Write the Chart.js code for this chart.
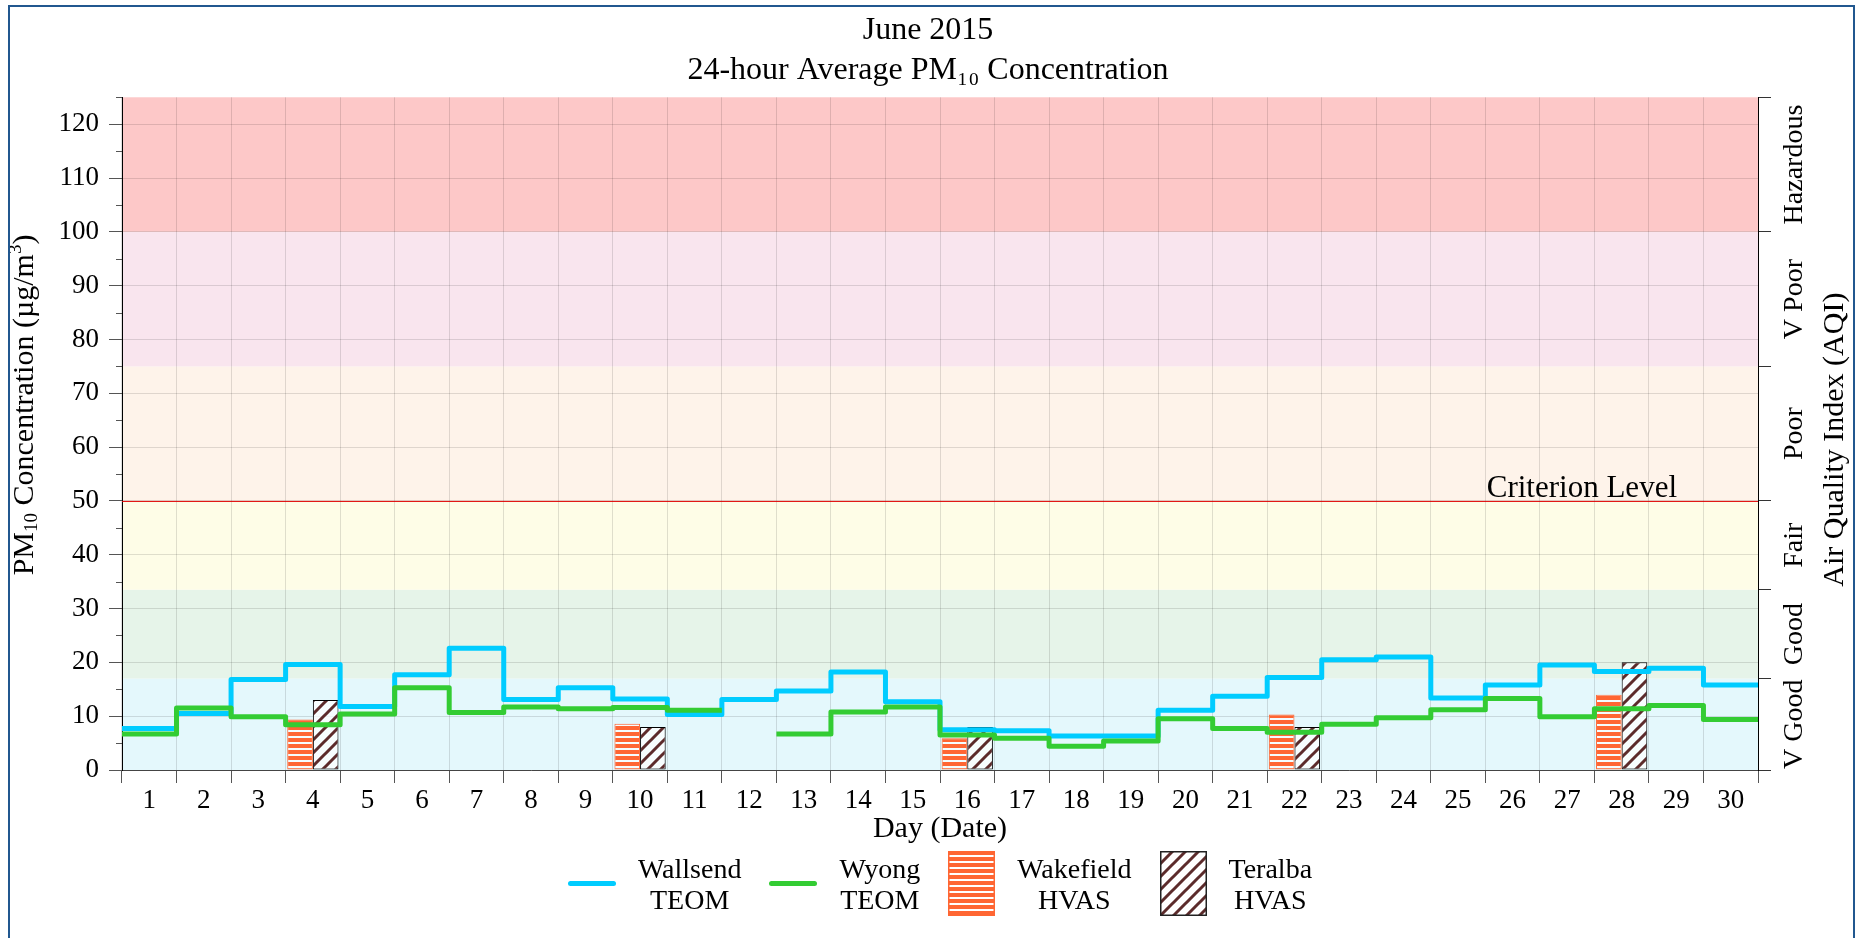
<!DOCTYPE html>
<html>
<head>
<meta charset="utf-8">
<script src="https://cdn.jsdelivr.net/npm/chart.js@4.4.1/dist/chart.umd.min.js"></script>
<style>
    html, body { margin: 0; padding: 0; background: #fff; overflow: hidden; }
    #wrap { position: relative; width: 1856px; height: 938px; }
    #frame { position: absolute; left: 8px; top: 5px; width: 1847px; height: 1000px; border: 2px solid #21578f; border-bottom: none; box-sizing: border-box; pointer-events: none; }
    #legend { position: absolute; left: 122px; width: 1636px; top: 851px; height: 65px; display: flex; justify-content: center; align-items: center; gap: 28px;
              font-family: 'Liberation Serif', 'Times New Roman', serif; font-size: 28px; line-height: 31px; color: #000; }
    .item { display: flex; align-items: center; }
    .swatch-line { width: 48px; height: 5px; border-radius: 3px; }
    .txt { margin-left: 22px; text-align: center; }
</style>
</head>
<body>
<div id="wrap">
    <canvas id="pm-chart" width="1856" height="938"></canvas>
    <div id="legend"></div>
    <div id="frame"></div>
</div>
<script>
// ---- data ----
const days = ['1','2','3','4','5','6','7','8','9','10','11','12','13','14','15','16','17','18','19','20','21','22','23','24','25','26','27','28','29','30'];
const wallsendTeom = [7.7, 10.5, 16.8, 19.6, 11.8, 17.7, 22.6, 13.1, 15.3, 13.2, 10.3, 13.1, 14.7, 18.2, 12.7, 7.5, 7.3, 6.3, 6.3, 11.1, 13.7, 17.2, 20.5, 21.0, 13.4, 15.8, 19.5, 18.3, 18.9, 15.8];
const wyongTeom = [6.7, 11.5, 9.9, 8.4, 10.4, 15.3, 10.7, 11.7, 11.4, 11.6, 11.1, null, 6.7, 10.8, 11.7, 6.5, 5.9, 4.4, 5.4, 9.5, 7.7, 7.0, 8.5, 9.7, 11.2, 13.3, 9.9, 11.4, 12.0, 9.4];
const wakefieldHvas = [null, null, null, 9.4, null, null, null, null, null, 8.6, null, null, null, null, null, 5.9, null, null, null, null, null, 10.3, null, null, null, null, null, 14.0, null, null];
const teralbaHvas = [null, null, null, 13.0, null, null, null, null, null, 8.0, null, null, null, null, null, 8.0, null, null, null, null, null, 8.0, null, null, null, null, null, 20.0, null, null];

const yTicks = [0, 10, 20, 30, 40, 50, 60, 70, 80, 90, 100, 110, 120];
const yMinorTicks = [5, 15, 25, 35, 45, 55, 65, 75, 85, 95, 105, 115, 125];
const bandEdges = [0, 17, 33.5, 50, 75, 100, 125];
const bandNames = ['V Good', 'Good', 'Fair', 'Poor', 'V Poor', 'Hazardous'];
const bandColors = ['#e4f8fc', '#e6f4e9', '#fefde7', '#fef3ea', '#f9e5ee', '#fdc8c8'];
const criterionLevel = 50;

const serif = "'Liberation Serif', 'Times New Roman', serif";
const tickFont = { family: serif, size: 27, weight: 'normal' };

// ---- fills ----
function stripeTile() {
    const c = document.createElement('canvas');
    c.width = 8; c.height = 6;
    const g = c.getContext('2d');
    g.fillStyle = 'rgba(255,255,255,0.6)';
    g.fillRect(0, 0, 8, 6);
    g.fillStyle = '#ff6633';
    g.fillRect(0, 0, 8, 4);
    return c;
}
function hatchTile() {
    const s = 13;
    const c = document.createElement('canvas');
    c.width = s; c.height = s;
    const g = c.getContext('2d');
    g.fillStyle = 'rgba(255,255,255,0.7)';
    g.fillRect(0, 0, s, s);
    g.strokeStyle = '#5c2b2b';
    g.lineWidth = 3;
    g.beginPath();
    g.moveTo(-2, s + 2); g.lineTo(s + 2, -2);
    g.moveTo(-2, 2); g.lineTo(2, -2);
    g.moveTo(s - 2, s + 2); g.lineTo(s + 2, s - 2);
    g.stroke();
    return c;
}
const pctx = document.createElement('canvas').getContext('2d');
const stripeFill = pctx.createPattern(stripeTile(), 'repeat');
const hatchFill = pctx.createPattern(hatchTile(), 'repeat');

// each day's value held across its whole category slot (index +/- 0.5)
function stepPoints(values) {
    const pts = [];
    values.forEach((v, i) => {
        if (v === null) { pts.push({ x: i, y: null }); return; }
        pts.push({ x: i - 0.5, y: v }, { x: i + 0.5, y: v });
    });
    return pts;
}

const aqiPlugin = {
    id: 'aqi',
    beforeDraw(chart) {
        const { ctx, chartArea: a, scales: { y } } = chart;
        ctx.save();
        for (let i = 0; i < bandNames.length; i++) {
            const top = y.getPixelForValue(bandEdges[i + 1]);
            const bot = y.getPixelForValue(bandEdges[i]);
            ctx.fillStyle = bandColors[i];
            ctx.fillRect(a.left, top, a.right - a.left, bot - top);
        }
        ctx.restore();
    },
    beforeDatasetsDraw(chart) {
        const { ctx, chartArea: a, scales: { y } } = chart;
        const py = y.getPixelForValue(criterionLevel);
        ctx.save();
        ctx.strokeStyle = '#e00000';
        ctx.lineWidth = 1;
        ctx.beginPath();
        ctx.moveTo(a.left, py + 0.5);
        ctx.lineTo(a.right, py + 0.5);
        ctx.stroke();
        ctx.fillStyle = '#000';
        ctx.font = `31px ${serif}`;
        ctx.textAlign = 'right';
        ctx.textBaseline = 'alphabetic';
        ctx.fillText('Criterion Level', a.right - 81, py - 4);
        ctx.restore();
    },
    afterDraw(chart) {
        const { ctx, chartArea: a, scales: { y } } = chart;
        ctx.save();
        // minor ticks on the left axis
        ctx.strokeStyle = '#555';
        ctx.lineWidth = 1;
        ctx.beginPath();
        yMinorTicks.forEach(v => {
            const py = Math.round(y.getPixelForValue(v)) + 0.5;
            ctx.moveTo(a.left - 6, py);
            ctx.lineTo(a.left, py);
        });
        ctx.stroke();
        ctx.fillStyle = '#000';
        ctx.textAlign = 'center';
        ctx.textBaseline = 'middle';
        // left axis title (PM10 subscript, m3 superscript)
        ctx.save();
        ctx.translate(25, 405);
        ctx.rotate(-Math.PI / 2);
        const big = `30px ${serif}`, small = `19px ${serif}`;
        const parts = [['PM', big, 0], ['10', small, 7], [' Concentration (\u00b5g/m', big, 0], ['3', small, -9], [')', big, 0]];
        let w = 0;
        parts.forEach(p => { ctx.font = p[1]; w += ctx.measureText(p[0]).width; });
        let x = -w / 2;
        ctx.textAlign = 'left';
        parts.forEach(p => { ctx.font = p[1]; ctx.fillText(p[0], x, p[2]); x += ctx.measureText(p[0]).width; });
        ctx.restore();
        // AQI band names on the right
        ctx.textAlign = 'center';
        ctx.font = `28px ${serif}`;
        for (let i = 0; i < bandNames.length; i++) {
            const py = (y.getPixelForValue(bandEdges[i]) + y.getPixelForValue(bandEdges[i + 1])) / 2;
            ctx.save();
            ctx.translate(a.right + 37, py);
            ctx.rotate(-Math.PI / 2);
            ctx.fillText(bandNames[i], 0, 0);
            ctx.restore();
        }
        ctx.font = `30px ${serif}`;
        ctx.save();
        ctx.translate(a.right + 77, (a.top + a.bottom) / 2 + 6);
        ctx.rotate(-Math.PI / 2);
        ctx.fillText('Air Quality Index (AQI)', 0, 0);
        ctx.restore();
        ctx.restore();
    }
};

new Chart(document.getElementById('pm-chart'), {
    type: 'bar',
    data: {
        labels: days,
        datasets: [
            { type: 'line', label: 'Wyong TEOM', data: stepPoints(wyongTeom), parsing: false, xAxisID: 'x', yAxisID: 'y',
              borderColor: '#33cc33', borderWidth: 5, pointRadius: 0, fill: false, spanGaps: false,
              borderJoinStyle: 'round', order: 0 },
            { type: 'line', label: 'Wallsend TEOM', data: stepPoints(wallsendTeom), parsing: false, xAxisID: 'x', yAxisID: 'y',
              borderColor: '#00ccff', borderWidth: 5, pointRadius: 0, fill: false, spanGaps: false,
              borderJoinStyle: 'round', order: 1 },
            { type: 'bar', label: 'Wakefield HVAS', data: wakefieldHvas, xAxisID: 'x', yAxisID: 'y',
              backgroundColor: stripeFill, borderColor: '#ff6633', borderWidth: 1, borderSkipped: false,
              categoryPercentage: 0.94, barPercentage: 1.0, order: 2 },
            { type: 'bar', label: 'Teralba HVAS', data: teralbaHvas, xAxisID: 'x', yAxisID: 'y',
              backgroundColor: hatchFill, borderColor: '#000', borderWidth: 1, borderSkipped: false,
              categoryPercentage: 0.94, barPercentage: 1.0, order: 2 }
        ]
    },
    options: {
        responsive: false,
        animation: false,
        devicePixelRatio: 1,
        layout: { padding: 0 },
        plugins: {
            legend: { display: false },
            tooltip: { enabled: false },
            title: {
                display: true,
                text: ['June 2015', '24-hour Average PM\u2081\u2080 Concentration'],
                color: '#000',
                font: { family: serif, size: 32, weight: 'normal', lineHeight: 1.27 },
                padding: { top: 10, bottom: 6 }
            }
        },
        scales: {
            x: {
                type: 'category',
                position: 'bottom',
                offset: true,
                grid: { offset: true, color: 'rgba(0,0,0,0.12)', tickColor: '#555', tickLength: 13 },
                border: { color: '#444', width: 1 },
                ticks: { font: tickFont, color: '#000', padding: 2, maxRotation: 0, autoSkip: false },
                title: { display: true, text: 'Day (Date)', color: '#000', font: { family: serif, size: 30, weight: 'normal' }, padding: { top: 0, bottom: 91 } },
                afterFit: (s) => { s.height = 168; }
            },
            y: {
                position: 'left',
                min: 0,
                max: 125,
                afterBuildTicks: (s) => { s.ticks = yTicks.map(v => ({ value: v })); },
                afterFit: (s) => { s.width = 122; },
                grid: { color: 'rgba(0,0,0,0.12)', tickColor: '#555', tickLength: 13 },
                border: { color: '#000', width: 1 },
                ticks: { font: tickFont, color: '#000', padding: 10 }
            },
            y2: {
                position: 'right',
                min: 0,
                max: 125,
                afterBuildTicks: (s) => { s.ticks = bandEdges.map(v => ({ value: v })); },
                afterFit: (s) => { s.width = 98; },
                grid: { drawOnChartArea: false, tickColor: '#333', tickLength: 13 },
                border: { color: '#000', width: 1 },
                ticks: { display: false }
            }
        }
    },
    plugins: [aqiPlugin]
});

// ---- legend ----
function boxSwatch(fill, edge) {
    const c = document.createElement('canvas');
    c.width = 47; c.height = 65;
    const g = c.getContext('2d');
    g.fillStyle = fill;
    g.fillRect(0, 0, 47, 65);
    g.strokeStyle = edge;
    g.lineWidth = 1.5;
    g.strokeRect(0.75, 0.75, 45.5, 63.5);
    return c;
}
const legendItems = [
    { lines: ['Wallsend', 'TEOM'], color: '#00ccff' },
    { lines: ['Wyong', 'TEOM'], color: '#33cc33' },
    { lines: ['Wakefield', 'HVAS'], fill: stripeFill, edge: '#ff6633' },
    { lines: ['Teralba', 'HVAS'], fill: hatchFill, edge: '#222' }
];
const legend = document.getElementById('legend');
legendItems.forEach(it => {
    const item = document.createElement('div');
    item.className = 'item';
    if (it.color) {
        const sw = document.createElement('div');
        sw.className = 'swatch-line';
        sw.style.background = it.color;
        item.appendChild(sw);
    } else {
        item.appendChild(boxSwatch(it.fill, it.edge));
    }
    const txt = document.createElement('div');
    txt.className = 'txt';
    txt.innerHTML = it.lines.join('<br>');
    item.appendChild(txt);
    legend.appendChild(item);
});
</script>
</body>
</html>
